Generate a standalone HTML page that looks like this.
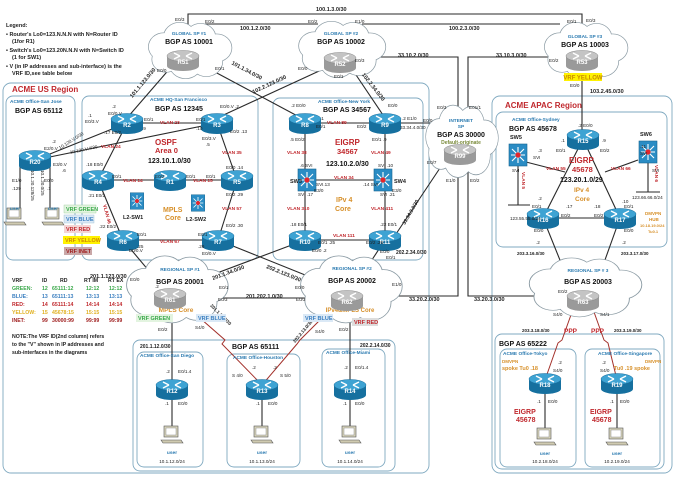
<!DOCTYPE html>
<html><head><meta charset="utf-8">
<style>
html,body{margin:0;padding:0;background:#fff;}
svg{display:block;font-family:"Liberation Sans",sans-serif;}
.i{font-size:4.6px;fill:#222;}
.v{font-size:4.8px;fill:#c0282d;font-weight:bold;}
.b{font-size:7px;font-weight:bold;fill:#111;}
.t{font-size:4.8px;font-weight:bold;fill:#2a7ab0;}
.rl{font-size:6px;font-weight:bold;fill:#fff;text-anchor:middle;}
.s{font-size:5.5px;font-weight:bold;fill:#222;}
.red{fill:#c0282d;font-weight:bold;}
.or{fill:#d7902a;font-weight:bold;}
</style></head><body>
<svg width="675" height="477" viewBox="0 0 675 477" xmlns="http://www.w3.org/2000/svg">
<defs>
<g id="rt">
<rect x="-16" y="-4" width="32" height="10" fill="#16709f"/>
<ellipse cx="0" cy="6" rx="16" ry="5" fill="#16709f"/>
<ellipse cx="0" cy="-4" rx="16" ry="5.5" fill="#3ea3d3" stroke="#1a6d9c" stroke-width="0.5"/>
<path d="M-9,-7 L-3,-4 M9,-1 L3,-4 M9,-7 L3,-4 M-9,-1 L-3,-4" stroke="#fff" stroke-width="1.4"/>
</g>
<g id="rg">
<rect x="-16" y="-4" width="32" height="10" fill="#9a9a9a"/>
<ellipse cx="0" cy="6" rx="16" ry="5" fill="#9a9a9a"/>
<ellipse cx="0" cy="-4" rx="16" ry="5.5" fill="#c4c4c4" stroke="#888" stroke-width="0.5"/>
<path d="M-9,-7 L-3,-4 M9,-1 L3,-4 M9,-7 L3,-4 M-9,-1 L-3,-4" stroke="#fff" stroke-width="1.4"/>
</g>
<g id="sw">
<rect x="-9" y="-11" width="18" height="22" fill="#2a8cc4" stroke="#16648f" stroke-width="0.6"/>
<path d="M-6,-6 L6,6 M6,-6 L-6,6 M0,-8 L0,8 M-7,0 L7,0" stroke="#fff" stroke-width="1.1"/>
<circle r="2.6" fill="#e3262c"/>
</g>
<g id="cl">
<g fill="none" stroke="#8a9aa3" stroke-width="1.2">
<circle cx="-22" cy="-4" r="13"/><circle cx="-8" cy="-13" r="14"/><circle cx="10" cy="-13" r="13"/><circle cx="24" cy="-3" r="13"/><circle cx="15" cy="10" r="14"/><circle cx="-3" cy="12" r="14"/><circle cx="-20" cy="8" r="12"/>
</g>
<g fill="#fff">
<circle cx="-22" cy="-4" r="13"/><circle cx="-8" cy="-13" r="14"/><circle cx="10" cy="-13" r="13"/><circle cx="24" cy="-3" r="13"/><circle cx="15" cy="10" r="14"/><circle cx="-3" cy="12" r="14"/><circle cx="-20" cy="8" r="12"/><circle cx="0" cy="0" r="18"/>
</g>
</g>
<g id="pc">
<rect x="-8" y="-10" width="14" height="11" fill="#d8d4bc" stroke="#555" stroke-width="0.6"/>
<rect x="-6" y="-8" width="10" height="7" fill="#fff" stroke="#777" stroke-width="0.4"/>
<path d="M-11,4 L9,4 L11,7 L-9,7 Z" fill="#cfcab0" stroke="#555" stroke-width="0.6"/>
</g>
</defs>

<!-- legend -->
<text x="6" y="27" class="s">Legend:</text>
<text x="6" y="36" class="s">• Router's Lo0=123.N.N.N with N=Router ID</text>
<text x="12" y="43" class="s">(1for R1)</text>
<text x="6" y="52" class="s">• Switch's Lo0=123.20N.N.N with N=Switch ID</text>
<text x="12" y="59" class="s">(1 for SW1)</text>
<text x="6" y="68" class="s">• V (in IP addresses and sub-interface) is the</text>
<text x="12" y="75" class="s">VRF ID,see table below</text>

<!-- boxes -->
<g fill="none" stroke="#7fa9c0" stroke-width="0.9">
<rect x="3" y="83" width="426" height="390" rx="8"/>
<rect x="6" y="96" width="69" height="164" rx="7"/>
<rect x="82" y="96" width="176" height="164" rx="7"/>
<rect x="273" y="98" width="150" height="162" rx="7"/>
<rect x="133" y="340" width="262" height="131" rx="7"/>
<rect x="137" y="352" width="66" height="115" rx="7"/>
<rect x="227" y="354" width="73" height="113" rx="7"/>
<rect x="322" y="349" width="63" height="118" rx="7"/>
<rect x="492" y="96" width="180" height="377" rx="8"/>
<rect x="496" y="112" width="171" height="135" rx="7"/>
<rect x="495" y="334" width="169" height="135" rx="7"/>
<rect x="500" y="349" width="76" height="118" rx="7"/>
<rect x="585" y="349" width="75" height="118" rx="7"/>
</g>
<text x="12" y="92" font-size="8" class="red" style="fill:#c0282d">ACME US Region</text>
<text x="505" y="108" font-size="8" style="fill:#c0282d;font-weight:bold">ACME APAC Region</text>

<!-- connectors -->
<g stroke="#2a2a2a" stroke-width="1.1" fill="none">
<path d="M188,30 L188,14 L582,14 L582,30"/>
<path d="M205,24 L318,24"/>
<path d="M362,24 L560,24"/>
<path d="M362,57 L458,57 L458,112"/>
<path d="M568,57 L468,57 L468,112"/>
<path d="M458,170 L458,296 L385,296"/>
<path d="M468,170 L468,296 L545,296"/>
<path d="M172,66 L127,118"/>
<path d="M200,64 L305,120"/>
<path d="M330,66 L217,118"/>
<path d="M350,66 L385,118"/>
<path d="M400,123 L440,123"/>
<path d="M444,162 L392,240"/>
<path d="M582,78 L582,136"/>
<path d="M127,123 L217,123 M217,123 L237,180 M127,123 L98,180 M98,180 L237,180 M237,180 L218,240 M98,180 L123,240 M123,240 L218,240"/>
<path d="M305,123 L385,123 L385,240 L305,240 Z M307,180 L383,180"/>
<path d="M35,160 L127,123 M35,160 L217,123"/>
<path d="M20,163 L20,218 M50,163 L50,218 M20,218 L15,218 M50,218 L55,218"/>
<path d="M123,240 L165,290"/>
<path d="M218,240 L330,285"/>
<path d="M305,240 L185,285"/>
<path d="M385,240 L360,278"/>
<path d="M195,298 L320,298"/>
<path d="M172,310 L172,385"/>
<path d="M350,310 L350,385"/>
<path d="M172,390 L172,430 M262,390 L262,430 M350,390 L350,430 M545,383 L545,432 M617,383 L617,432"/>
<path d="M583,139 L543,218 L620,218 L583,139"/>
<path d="M543,218 L570,285 M620,218 L596,285"/>
<path d="M518,158 L518,205 M508,205 L530,205 M648,155 L648,192 M636,192 L660,192"/>
<path d="M526,162 L565,172 M638,160 L605,172"/>
</g>
<g stroke="#a3302a" stroke-width="1" fill="none">
<path d="M185,305 L225,340 L222,344 L262,385"/>
<path d="M335,305 L300,340 L297,344 L262,385"/>
<path d="M572,312 L562,340 L558,343 L545,380"/>
<path d="M594,312 L604,340 L608,343 L617,380"/>
</g>

<!-- clouds -->
<use href="#cl" transform="translate(189,51) scale(1.15,1.05)"/>
<use href="#cl" transform="translate(341,50) scale(1.2,1.05)"/>
<use href="#cl" transform="translate(585,51) scale(1.15,1.05)"/>
<use href="#cl" transform="translate(461,142) scale(1.0,1.35)"/>
<use href="#cl" transform="translate(176,290) scale(1.4,1.25)"/>
<use href="#cl" transform="translate(350,290) scale(1.4,1.25)"/>
<use href="#cl" transform="translate(584,288) scale(1.55,1.1)"/>

<!-- cloud texts -->
<text x="189" y="35" class="t" text-anchor="middle">GLOBAL SP #1</text>
<text x="189" y="44" class="b" text-anchor="middle" font-size="6.5">BGP AS 10001</text>
<text x="341" y="35" class="t" text-anchor="middle">GLOBAL SP #2</text>
<text x="341" y="44" class="b" text-anchor="middle" font-size="6.5">BGP AS 10002</text>
<text x="585" y="38" class="t" text-anchor="middle">GLOBAL SP #3</text>
<text x="585" y="47" class="b" text-anchor="middle" font-size="6.5">BGP AS 10003</text>
<rect x="564" y="73" width="38" height="8" fill="#fff200"/>
<text x="583" y="79.5" font-size="6" font-weight="bold" fill="#c88a00" text-anchor="middle">VRF YELLOW</text>
<text x="461" y="122" class="t" text-anchor="middle">INTERNET</text>
<text x="461" y="128" class="t" text-anchor="middle">SP</text>
<text x="461" y="137" class="b" text-anchor="middle" font-size="6.5">BGP AS 30000</text>
<text x="461" y="144" font-size="5" font-weight="bold" fill="#7a8a3a" text-anchor="middle">Default-originate</text>
<text x="180" y="271" class="t" text-anchor="middle" font-size="5.5">REGIONAL SP #1</text>
<text x="180" y="284" class="b" text-anchor="middle" font-size="9">BGP AS 20001</text>
<text x="176" y="312" class="or" font-size="6.5" text-anchor="middle">MPLS Core</text>
<text x="352" y="270" class="t" text-anchor="middle" font-size="5.5">REGIONAL SP #2</text>
<text x="352" y="283" class="b" text-anchor="middle" font-size="9">BGP AS 20002</text>
<text x="350" y="312" class="or" font-size="6" text-anchor="middle">IPv4&amp;MPLS Core</text>
<text x="588" y="272" class="t" text-anchor="middle" font-size="5.5">REGIONAL SP # 3</text>
<text x="588" y="284" class="b" text-anchor="middle" font-size="8">BGP AS 20003</text>

<!-- routers -->
<use href="#rg" x="183" y="60"/><text x="183" y="64" class="rl">R51</text>
<use href="#rg" x="340" y="62"/><text x="340" y="66" class="rl">R52</text>
<use href="#rg" x="582" y="60"/><text x="582" y="64" class="rl">R53</text>
<use href="#rg" x="460" y="154"/><text x="460" y="158" class="rl">R99</text>
<use href="#rg" x="170" y="298"/><text x="170" y="302" class="rl">R61</text>
<use href="#rg" x="347" y="300"/><text x="347" y="304" class="rl">R62</text>
<use href="#rg" x="583" y="300"/><text x="583" y="304" class="rl">R63</text>
<use href="#rt" x="127" y="123"/><text x="127" y="127" class="rl">R2</text>
<use href="#rt" x="217" y="123"/><text x="217" y="127" class="rl">R3</text>
<use href="#rt" x="98" y="180"/><text x="98" y="184" class="rl">R4</text>
<use href="#rt" x="170" y="180"/><text x="170" y="184" class="rl">R1</text>
<use href="#rt" x="237" y="180"/><text x="237" y="184" class="rl">R5</text>
<use href="#rt" x="123" y="240"/><text x="123" y="244" class="rl">R6</text>
<use href="#rt" x="218" y="240"/><text x="218" y="244" class="rl">R7</text>
<use href="#rt" x="35" y="160"/><text x="35" y="164" class="rl">R20</text>
<use href="#rt" x="305" y="123"/><text x="305" y="127" class="rl">R8</text>
<use href="#rt" x="385" y="123"/><text x="385" y="127" class="rl">R9</text>
<use href="#rt" x="305" y="240"/><text x="305" y="244" class="rl">R10</text>
<use href="#rt" x="385" y="240"/><text x="385" y="244" class="rl">R11</text>
<use href="#rt" x="583" y="139"/><text x="583" y="143" class="rl">R15</text>
<use href="#rt" x="543" y="218"/><text x="543" y="222" class="rl">R16</text>
<use href="#rt" x="620" y="218"/><text x="620" y="222" class="rl">R17</text>
<use href="#rt" x="172" y="389"/><text x="172" y="393" class="rl">R12</text>
<use href="#rt" x="262" y="389"/><text x="262" y="393" class="rl">R13</text>
<use href="#rt" x="350" y="389"/><text x="350" y="393" class="rl">R14</text>
<use href="#rt" x="545" y="383"/><text x="545" y="387" class="rl">R18</text>
<use href="#rt" x="617" y="383"/><text x="617" y="387" class="rl">R19</text>
<use href="#sw" x="307" y="180"/><use href="#sw" x="383" y="180"/>
<use href="#sw" x="518" y="155"/><use href="#sw" x="648" y="152"/>
<use href="#sw" x="137" y="201" transform="translate(137,201) scale(0.75) translate(-137,-201)"/>
<use href="#sw" x="198" y="203" transform="translate(198,203) scale(0.75) translate(-198,-203)"/>
<text x="290" y="183" class="s" font-size="6.5">SW3</text>
<text x="394" y="183" class="s" font-size="6.5">SW4</text>
<text x="510" y="139" class="s" font-size="6.5">SW5</text>
<text x="640" y="136" class="s" font-size="6.5">SW6</text>
<text x="123" y="219" class="s" font-size="6.5">L2-SW1</text>
<text x="186" y="221" class="s" font-size="6.5">L2-SW2</text>

<!-- PCs -->
<use href="#pc" x="15" y="218"/><use href="#pc" x="53" y="218"/>
<use href="#pc" x="172" y="436"/><use href="#pc" x="262" y="436"/><use href="#pc" x="350" y="436"/>
<use href="#pc" x="545" y="438"/><use href="#pc" x="617" y="438"/>
<g class="t" text-anchor="middle" font-size="4.5">
<text x="15" y="210">user</text><text x="53" y="210">user</text>
<text x="172" y="454">user</text><text x="262" y="454">user</text><text x="350" y="454">user</text>
<text x="545" y="455">user</text><text x="617" y="455">user</text>
</g>
<g class="i" text-anchor="middle" font-size="5">
<text x="172" y="463">10.1.12.0/24</text><text x="262" y="463">10.1.13.0/24</text><text x="350" y="463">10.1.14.0/24</text>
<text x="545" y="463">10.2.18.0/24</text><text x="617" y="463">10.2.19.0/24</text>
</g>

<!-- box titles -->
<text x="10" y="103" class="t" font-size="4.5">ACME Office-San Jose</text>
<text x="15" y="113" class="b" font-size="6.5">BGP AS 65112</text>
<text x="150" y="101" class="t" font-size="4.5">ACME HQ-San Francisco</text>
<text x="155" y="111" class="b" font-size="6.5">BGP AS 12345</text>
<text x="318" y="103" class="t" font-size="4.5">ACME Office-New York</text>
<text x="323" y="112" class="b" font-size="6.5">BGP AS 34567</text>
<text x="512" y="121" class="t" font-size="5.5">ACME Office-Sydney</text>
<text x="509" y="131" class="b" font-size="7">BGP AS 45678</text>
<text x="232" y="349" class="b" font-size="7">BGP AS 65111</text>
<text x="140" y="357" class="t" font-size="4">ACME Office-San Diego</text>
<text x="233" y="359" class="t" font-size="4">ACME Office-Houston</text>
<text x="326" y="354" class="t" font-size="4">ACME Office-Miami</text>
<text x="499" y="346" class="b" font-size="7">BGP AS 65222</text>
<text x="503" y="355" class="t" font-size="4">ACME Office-Tokyo</text>
<text x="598" y="355" class="t" font-size="4">ACME Office-Singapore</text>

<!-- routing domains -->
<text x="155" y="145" font-size="8" class="red" style="fill:#c0282d">OSPF</text>
<text x="155" y="153" font-size="7.5" style="fill:#c0282d;font-weight:bold">Area 0</text>
<text x="148" y="163" class="b" font-size="6.5">123.10.1.0/30</text>
<text x="163" y="212" font-size="7" style="fill:#d7902a;font-weight:bold">MPLS</text>
<text x="165" y="220" font-size="7" style="fill:#d7902a;font-weight:bold">Core</text>
<text x="335" y="145" font-size="8" style="fill:#c0282d;font-weight:bold">EIGRP</text>
<text x="337" y="154" font-size="7.5" style="fill:#c0282d;font-weight:bold">34567</text>
<text x="326" y="166" class="b" font-size="6.5">123.10.2.0/30</text>
<text x="336" y="202" font-size="7" style="fill:#d7902a;font-weight:bold">IPv 4</text>
<text x="335" y="211" font-size="7" style="fill:#d7902a;font-weight:bold">Core</text>
<text x="569" y="163" font-size="8" style="fill:#c0282d;font-weight:bold">EIGRP</text>
<text x="572" y="172" font-size="7.5" style="fill:#c0282d;font-weight:bold">45678</text>
<text x="560" y="182" class="b" font-size="6.5">123.20.1.0/29</text>
<text x="574" y="192" font-size="6.5" style="fill:#d7902a;font-weight:bold">IPv 4</text>
<text x="575" y="201" font-size="6.5" style="fill:#d7902a;font-weight:bold">Core</text>
<text x="514" y="414" font-size="7" style="fill:#c0282d;font-weight:bold">EIGRP</text>
<text x="516" y="422" font-size="7" style="fill:#c0282d;font-weight:bold">45678</text>
<text x="590" y="414" font-size="7" style="fill:#c0282d;font-weight:bold">EIGRP</text>
<text x="592" y="422" font-size="7" style="fill:#c0282d;font-weight:bold">45678</text>
<text x="502" y="363" font-size="4.5" style="fill:#d7902a;font-weight:bold">DMVPN</text>
<text x="502" y="370" font-size="5.5" style="fill:#d7902a;font-weight:bold">spoke Tu0 .18</text>
<text x="645" y="363" font-size="4.5" style="fill:#d7902a;font-weight:bold">DMVPN</text>
<text x="614" y="370" font-size="5.5" style="fill:#d7902a;font-weight:bold">Tu0 .19 spoke</text>
<text x="645" y="215" font-size="4.5" style="fill:#d7902a;font-weight:bold">DMVPN</text>
<text x="649" y="221" font-size="4.5" style="fill:#d7902a;font-weight:bold">HUB</text>
<text x="640" y="227" font-size="4" style="fill:#d7902a;font-weight:bold">10.18.19.0/24</text>
<text x="648" y="233" font-size="4" style="fill:#d7902a;font-weight:bold">Tu0.1</text>
<text x="564" y="333" font-size="6.5" style="fill:#c0282d;font-weight:bold">PPP</text>
<text x="591" y="333" font-size="6.5" style="fill:#c0282d;font-weight:bold">PPP</text>

<!-- network labels -->
<g class="s" font-size="6">
<text x="316" y="11">100.1.3.0/30</text>
<text x="240" y="30">100.1.2.0/30</text>
<text x="449" y="30">100.2.3.0/30</text>
<text x="398" y="57">33.10.2.0/30</text>
<text x="496" y="57">33.10.3.0/30</text>
<text x="590" y="93">103.2.45.0/30</text>
<text x="90" y="278">201.1.123.0/30</text>
<text x="246" y="298">201.202.1.0/30</text>
<text x="409" y="301">33.20.2.0/30</text>
<text x="474" y="301">33.20.3.0/30</text>
<text x="396" y="254" font-size="5">202.2.34.0/30</text>
<text x="140" y="348" font-size="5">201.1.12.0/30</text>
<text x="360" y="347" font-size="5">202.2.14.0/30</text>
<text x="517" y="255" font-size="4.5">203.3.16.0/30</text>
<text x="621" y="255" font-size="4.5">203.3.17.0/30</text>
<text x="522" y="332" font-size="4.5">203.3.18.0/30</text>
<text x="614" y="332" font-size="4.5">203.3.19.0/30</text>
<text x="144" y="84" text-anchor="middle" transform="rotate(-50 144 84)">101.1.123.0/30</text>
<text x="246" y="72" text-anchor="middle" transform="rotate(28 246 72)">101.1.34.0/30</text>
<text x="270" y="86" text-anchor="middle" transform="rotate(-25 270 86)">102.2.123.0/30</text>
<text x="372" y="88" text-anchor="middle" transform="rotate(52 372 88)">102.2.34.0/30</text>
<text x="213" y="280" transform="rotate(-20 213 280)" font-size="5.5">201.1.34.0/30</text>
<text x="266" y="268" transform="rotate(22 266 268)" font-size="5.5">202.2.123.0/30</text>
<text x="405" y="225" transform="rotate(-60 405 225)" font-size="5">33.34.3.0/30</text>
<text x="210" y="306" transform="rotate(45 210 306)" font-size="4.5">201.1.13.0/30</text>
<text x="295" y="343" transform="rotate(-50 295 343)" font-size="4.5">202.2.13.0/30</text>
</g>

<!-- VLAN labels -->
<g class="v">
<text x="160" y="124">VLAN 23</text><text x="101" y="148">VLAN 24</text>
<text x="222" y="154">VLAN 35</text><text x="123" y="182">VLAN 14</text>
<text x="193" y="182">VLAN 15</text><text x="222" y="210">VLAN 57</text>
<text x="160" y="243">VLAN 67</text>
<text x="327" y="124">VLAN 89</text><text x="287" y="154">VLAN 38</text>
<text x="371" y="154">VLAN 49</text><text x="334" y="179">VLAN 34</text>
<text x="287" y="210">VLAN 310</text><text x="371" y="210">VLAN 411</text>
<text x="333" y="237">VLAN 111</text>
<text x="546" y="170">VLAN 55</text><text x="611" y="170">VLAN 66</text>
<text x="103" y="205" transform="rotate(75 103 205)">VLAN 46</text>
<text x="522" y="172" transform="rotate(90 522 172)">VLAN 5</text>
<text x="655" y="165" transform="rotate(90 655 165)">VLAN 6</text>
</g>
<text x="510" y="220" class="i" font-size="4">123.55.55.0/24</text>
<text x="632" y="199" class="i" font-size="4">123.66.66.0/24</text>

<!-- interface labels -->
<g class="i">
<text x="175" y="21">E0/3</text><text x="205" y="23">E0/2</text><text x="308" y="23">E0/2</text><text x="355" y="23">E1/0</text>
<text x="157" y="72">E0/0</text><text x="215" y="70">E0/1</text><text x="298" y="70">E0/0</text><text x="334" y="78">E0/1</text>
<text x="355" y="62">E0/3</text><text x="549" y="62">E0/2</text><text x="567" y="23">E0/1</text><text x="586" y="22">E0/3</text>
<text x="570" y="87">E0/0</text>
<text x="112" y="108">.2</text><text x="108" y="115">E0/0.V</text><text x="88" y="117">.1</text><text x="85" y="123">E0/3.V</text>
<text x="144" y="121">E0/1</text><text x="142" y="130">.9</text><text x="196" y="121">E0/1</text><text x="196" y="130">.10</text>
<text x="202" y="140">E0/3.V</text><text x="206" y="146">.5</text><text x="220" y="108">E0/0.V .2</text>
<text x="230" y="133">E0/2 .13</text><text x="226" y="169">E0/0 .14</text>
<text x="104" y="134">.17 E0/2</text><text x="86" y="166">.18 E0/0</text>
<text x="112" y="178">E0/1</text><text x="155" y="178">E0/2</text><text x="186" y="178">E0/1</text><text x="206" y="178">E0/1</text>
<text x="88" y="197">.21 E0/2</text><text x="226" y="196">E0/2 .29</text>
<text x="99" y="228">.22 E0/2</text><text x="226" y="227">E0/2 .30</text>
<text x="137" y="236">E0/1</text><text x="198" y="236">E0/1</text><text x="137" y="248">.25</text><text x="198" y="248">.26</text>
<text x="129" y="252">E0/0.V</text><text x="202" y="255">E0/0.V</text>
<text x="52" y="143">.2</text><text x="44" y="150">E2/0.V</text><text x="53" y="166">E3/0.V</text><text x="62" y="172">.6</text>
<text x="12" y="182">E1/0</text><text x="12" y="190">.129</text><text x="44" y="182">E0/0</text><text x="47" y="190">.1</text>
<text x="291" y="107">.2 E0/0</text><text x="320" y="120">.1</text><text x="316" y="128">E0/1</text>
<text x="357" y="128">E0/2</text><text x="388" y="107">E0/0</text><text x="402" y="120">.2 E1/0</text>
<text x="290" y="141">.5 E0/2</text><text x="372" y="141">E0/1 .9</text>
<text x="300" y="167">.6 SVI</text><text x="378" y="167">SVI .10</text>
<text x="316" y="186">SVI.13</text><text x="363" y="186">.14 SVI</text><text x="314" y="192">E3/0</text><text x="392" y="192">E3/0</text>
<text x="298" y="196">SVI .17</text><text x="380" y="196">SVI .21</text>
<text x="290" y="226">.18 E0/1</text><text x="380" y="226">.22 E0/1</text>
<text x="318" y="244">E0/1 .25</text><text x="366" y="244">E0/2 .26</text><text x="312" y="252">E0/0 .2</text>
<text x="380" y="253">E0/0</text><text x="386" y="259">E0/1</text>
<text x="437" y="109">E0/3</text><text x="469" y="109">E01/1</text><text x="423" y="122">E0/0</text><text x="400" y="129">33.34.4.0/30</text>
<text x="427" y="164">E0/7</text><text x="446" y="182">E1/0</text><text x="470" y="182">E0/2</text>
<text x="130" y="281">E0/0</text><text x="155" y="288">.2</text><text x="219" y="289">E0/1</text><text x="218" y="301">E0/3</text>
<text x="295" y="289">E0/0</text><text x="296" y="301">E0/3</text><text x="392" y="286">E1/0</text>
<text x="158" y="331">E0/2</text><text x="195" y="329">S4/0</text><text x="315" y="333">S4/0</text><text x="339" y="331">E0/2</text>
<text x="558" y="293">E0/2</text><text x="553" y="316">S4/0</text><text x="600" y="316">S4/1</text>
<text x="166" y="373">.2</text><text x="178" y="373">E0/1.4</text><text x="165" y="405">.1</text><text x="178" y="405">E0/0</text>
<text x="232" y="377">S 4/0</text><text x="252" y="369">.2</text><text x="273" y="369">.2</text><text x="280" y="377">S 5/0</text>
<text x="256" y="405">.1</text><text x="268" y="405">E0/0</text>
<text x="344" y="369">.2</text><text x="355" y="369">E0/1.4</text><text x="343" y="405">.1</text><text x="355" y="405">E0/0</text>
<text x="558" y="364">.2</text><text x="553" y="372">S4/0</text><text x="537" y="403">.1</text><text x="548" y="403">E0/0</text>
<text x="602" y="364">.2</text><text x="600" y="372">S4/0</text><text x="610" y="403">.1</text><text x="620" y="403">E0/0</text>
<text x="578" y="127">.2 E0/0</text><text x="561" y="142">.1</text><text x="556" y="152">E0/1</text><text x="602" y="142">.9</text><text x="600" y="152">E0/2</text>
<text x="538" y="200">.2</text><text x="532" y="208">E0/1</text><text x="566" y="208">.17</text><text x="561" y="217">E0/2</text><text x="594" y="208">.18</text><text x="594" y="217">E0/2</text>
<text x="622" y="203">.10</text><text x="624" y="208">E0/1</text><text x="534" y="232">E0/0</text><text x="624" y="232">E0/0</text>
<text x="536" y="244">.2</text><text x="622" y="244">.2</text>
<text x="538" y="152">.3</text><text x="533" y="159">SVI</text><text x="512" y="172">SVI</text><text x="640" y="148">.11</text><text x="640" y="155">SVI</text><text x="652" y="172">SVI</text>
</g>
<g class="i" font-size="4.5">
<text x="72" y="142" text-anchor="middle" transform="rotate(-32 72 142)">10.120.V.0/30</text>
<text x="84" y="151" text-anchor="middle" transform="rotate(-12 84 151)">10.120.V.4/30</text>
<text x="31" y="170" transform="rotate(90 31 170)">10.1.20.128/25</text>
<text x="41" y="170" transform="rotate(90 41 170)">10.1.20.0/25</text>
</g>

<!-- VRF labels -->
<g font-size="5.5" font-weight="bold">
<rect x="64" y="205" width="32" height="8" fill="#e3f4e0" stroke="#9c9" stroke-width="0.4"/><text x="66" y="211" fill="#3aa84a">VRF GREEN</text>
<rect x="64" y="215" width="30" height="8" fill="#dbe9f6" stroke="#9bc" stroke-width="0.4"/><text x="66" y="221" fill="#3b7fc0">VRF BLUE</text>
<rect x="64" y="225" width="27" height="8" fill="#f4d5d5"/><text x="66" y="231" fill="#c0282d">VRF RED</text>
<rect x="63" y="236" width="37" height="8" fill="#fff200"/><text x="65" y="242" fill="#d08a00">VRF YELLOW</text>
<rect x="64" y="247" width="28" height="8" fill="#c9a7a7"/><text x="66" y="253" fill="#a02020">VRF INET</text>
<rect x="136" y="314" width="37" height="8" fill="#e3f4e0"/><text x="138" y="320" fill="#3aa84a">VRF GREEN</text>
<rect x="196" y="314" width="30" height="8" fill="#dbe9f6"/><text x="198" y="320" fill="#3b7fc0">VRF BLUE</text>
<rect x="303" y="314" width="30" height="8" fill="#dbe9f6"/><text x="305" y="320" fill="#3b7fc0">VRF BLUE</text>
<rect x="352" y="318" width="26" height="8" fill="#ddd"/><text x="354" y="324" fill="#c0282d">VRF RED</text>
</g>

<!-- VRF table -->
<g font-size="5.2" font-weight="bold">
<text x="12" y="282" fill="#222">VRF</text><text x="42" y="282" fill="#222">ID</text><text x="60" y="282" fill="#222">RD</text><text x="84" y="282" fill="#222">RT IM</text><text x="108" y="282" fill="#222">RT EX</text>
<g fill="#3aa84a"><text x="12" y="290">GREEN:</text><text x="42" y="290">12</text><text x="52" y="290">65111:12</text><text x="86" y="290">12:12</text><text x="109" y="290">12:12</text></g>
<g fill="#3b7fc0"><text x="12" y="298">BLUE:</text><text x="42" y="298">13</text><text x="52" y="298">65111:13</text><text x="86" y="298">13:13</text><text x="109" y="298">13:13</text></g>
<g fill="#c0282d"><text x="12" y="306">RED:</text><text x="42" y="306">14</text><text x="52" y="306">65111:14</text><text x="86" y="306">14:14</text><text x="109" y="306">14:14</text></g>
<g fill="#e0b020"><text x="12" y="314">YELLOW:</text><text x="42" y="314">15</text><text x="52" y="314">45678:15</text><text x="86" y="314">15:15</text><text x="109" y="314">15:15</text></g>
<g fill="#a02020"><text x="12" y="322">INET:</text><text x="42" y="322">99</text><text x="52" y="322">30000:99</text><text x="86" y="322">99:99</text><text x="109" y="322">99:99</text></g>
<g fill="#222"><text x="12" y="338">NOTE:The VRF ID(2nd column) refers</text><text x="12" y="346">to the "V" shown in IP addresses and</text><text x="12" y="354">sub-interfaces in the diagrams</text></g>
</g>
</svg>
</body></html>
